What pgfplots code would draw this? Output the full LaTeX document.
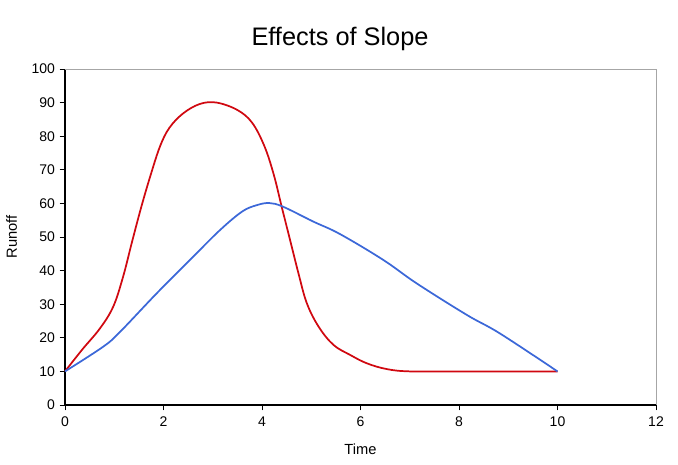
\documentclass[border=0pt]{standalone}
\usepackage{pgfplots}
\pgfplotsset{compat=1.18}
\usepackage{fontspec}
\setmainfont{Liberation Sans}
\definecolor{redline}{RGB}{208,8,16}
\definecolor{blueline}{RGB}{60,104,216}
\begin{document}
\begin{tikzpicture}
\path[use as bounding box] (0pt,0pt) rectangle (508.5pt,348pt);
\node[font=\fontsize{19}{22}\selectfont] at (255pt,318.5pt) {Effects of Slope};
\begin{axis}[
  at={(48.75pt,44.25pt)}, anchor=origin,
  scale only axis, width=443.25pt, height=252pt,
  xmin=0, xmax=12, ymin=0, ymax=100,
  xtick={0,2,...,12}, ytick={0,10,...,100},
  axis x line*=bottom, axis y line*=left,
  axis line style={black, line width=0.8pt, -},
  tick align=outside, major tick length=4pt,
  tick style={black, line width=0.7pt},
  ticklabel style={font=\fontsize{10.5}{12}\selectfont},
  xticklabel style={yshift=-1.5pt},
  /pgf/number format/assume math mode=true,
  xlabel={Time}, ylabel={Runoff},
  label style={font=\fontsize{11}{13}\selectfont},
  xlabel style={yshift=-5.5pt},
  ylabel style={yshift=4pt},
  clip=false,
]
\draw[gray!70, line width=0.6pt] (rel axis cs:0,1) -- (rel axis cs:1,1) -- (rel axis cs:1,0);
\addplot[redline, line width=1.3pt, smooth, tension=0.6] coordinates {
 (0,10) (0.35,16.5) (0.71,22.8) (0.98,29.3) (1.18,38.2) (1.36,48.5) (1.55,59) (1.74,68.5) (1.93,77) (2.12,82.5) (2.4,86.8) (2.74,89.6) (3.08,90) (3.5,87.8) (3.8,84) (4.05,77) (4.24,68.5) (4.4,59) (4.57,49.1) (4.74,39.2) (4.91,30.3) (5.15,23.3) (5.45,17.9) (5.79,14.9) (6.13,12.4) (6.53,10.7) (7,10) (8,10) (9,10) (10,10)
};
\addplot[blueline, line width=1.3pt, smooth, tension=0.6] coordinates {
 (0,10) (0.78,17.4) (1.12,21.8) (1.86,33.2) (2.6,44.1) (3.15,52.1) (3.6,57.6) (3.9,59.5) (4.15,60.1) (4.43,59) (5.04,54.6) (5.58,50.9) (6.46,43.2) (7.14,36.2) (8.16,26.8) (8.83,21.3) (10,10)
};
\end{axis}
\end{tikzpicture}
\end{document}
